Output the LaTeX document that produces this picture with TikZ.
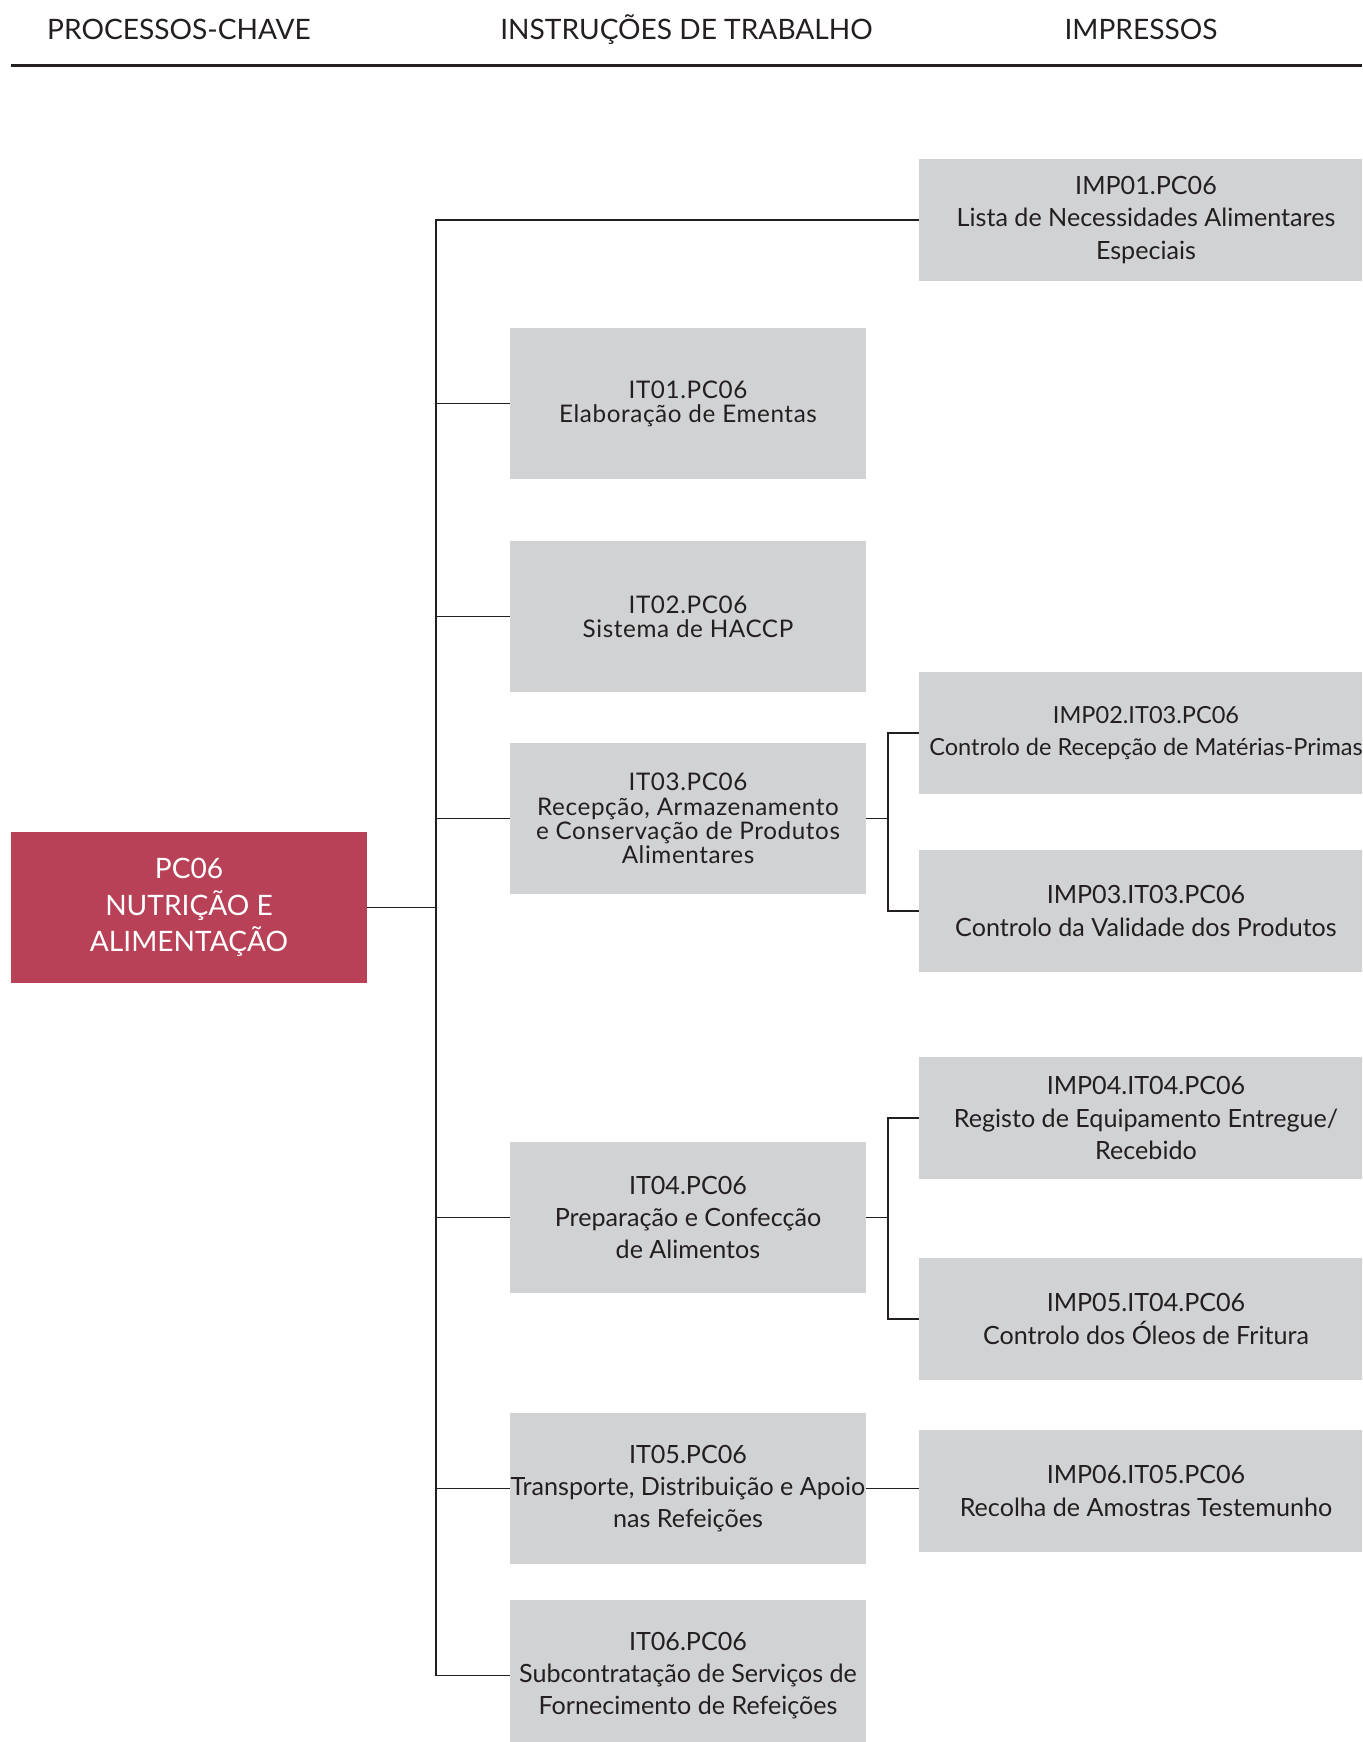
\documentclass[tikz,border=0pt]{standalone}
\usepackage{fontspec}
\setmainfont{Lato}
\definecolor{boxgray}{HTML}{D1D2D4}
\definecolor{pcred}{HTML}{B84158}
\definecolor{ink}{HTML}{231F20}
\tikzset{
	itbox/.style={fill=boxgray,minimum width=7.12cm,minimum height=3.02cm,inner sep=0pt,align=center,font=\fontsize{14.3}{18.2}\selectfont},
	ittight/.style={itbox,font=\fontsize{13.8}{13.8}\selectfont\addfontfeature{LetterSpace=2.5}},
	impbox/.style={fill=boxgray,minimum width=9.08cm,minimum height=2.44cm,inner sep=0pt,align=center,font=\fontsize{14.3}{18.6}\selectfont},
	pcbox/.style={fill=pcred,text=white,minimum width=7.12cm,minimum height=3.02cm,inner sep=0pt,align=center,font=\fontsize{16}{20.9}\selectfont},
	head/.style={anchor=base,font=\fontsize{16}{18}\selectfont},
	link/.style={draw=ink,line width=1.1pt}
}
\begin{document}
\begin{tikzpicture}[line join=miter,text=ink,scale=1]
	\useasboundingbox (0,0) rectangle (27.24,-34.84);
	\clip (0,0) rectangle (27.24,-34.84);
	% column titles
	\path (3.58,-0.786)node[head](hpc){PROCESSOS-CHAVE}
	+(10.15,0)node[head](hit){INSTRUÇÕES DE TRABALHO}
	+(19.24,0)node[head](himp){IMPRESSOS};
	\draw[ink,line width=1.5pt] (0.22,-1.31)--(27.24,-1.31);
	\coordinate (trunk) at (8.72,0);
	\coordinate (brk) at (17.76,0);
	\path (3.78,-18.15)node[pcbox](pc){PC06\\NUTRIÇÃO E\\ALIMENTAÇÃO};
	\path (13.76,-8.07)node[ittight](it1){IT01.PC06\\Elaboração de Ementas}
	++(0,-4.26)node[ittight](it2){IT02.PC06\\Sistema de HACCP}
	++(0,-4.04)node[ittight](it3){IT03.PC06\\Recepção, Armazenamento\\e Conservação de Produtos\\Alimentares}
	++(0,-7.98)node[itbox](it4){IT04.PC06\\Preparação e Confecção\\de Alimentos}
	++(0,-5.42)node[itbox](it5){IT05.PC06\\Transporte, Distribuição e Apoio\\nas Refeições}
	++(0,-3.74)node[itbox](it6){IT06.PC06\\Subcontratação de Serviços de\\Fornecimento de Refeições}
	;
	\path (22.92,-4.40)node[impbox](imp1){IMP01.PC06\\Lista de Necessidades Alimentares\\Especiais}
	++(0,-10.26)node[impbox,font=\fontsize{13.4}{18.6}\selectfont](imp2){IMP02.IT03.PC06\\Controlo de Recepção de Matérias-Primas}
	++(0,-3.56)node[impbox](imp3){IMP03.IT03.PC06\\Controlo da Validade dos Produtos}
	++(0,-4.14)node[impbox](imp4){IMP04.IT04.PC06\\Registo de Equipamento Entregue/\\Recebido}
	++(0,-4.02)node[impbox](imp5){IMP05.IT04.PC06\\Controlo dos Óleos de Fritura}
	++(0,-3.44)node[impbox](imp6){IMP06.IT05.PC06\\Recolha de Amostras Testemunho}
	;
	% tree
	\draw[link] (pc.east)--(pc.east-|trunk);
	\draw[link] (imp1.west)--(imp1.west-|trunk)--(it6.west-|trunk)--(it6.west);
	\draw[link] (it1.west)--(it1.west-|trunk)
	(it2.west)--(it2.west-|trunk)
	(it3.west)--(it3.west-|trunk)
	(it4.west)--(it4.west-|trunk)
	(it5.west)--(it5.west-|trunk);
	\draw[link] (it3.east)--(it3.east-|brk)
	(imp2.west)--(imp2.west-|brk)--(imp3.west-|brk)--(imp3.west);
	\draw[link] (it4.east)--(it4.east-|brk)
	(imp4.west)--(imp4.west-|brk)--(imp5.west-|brk)--(imp5.west);
	\draw[link] (it5.east)--(it5.east-|imp6.west);
\end{tikzpicture}
\end{document}
